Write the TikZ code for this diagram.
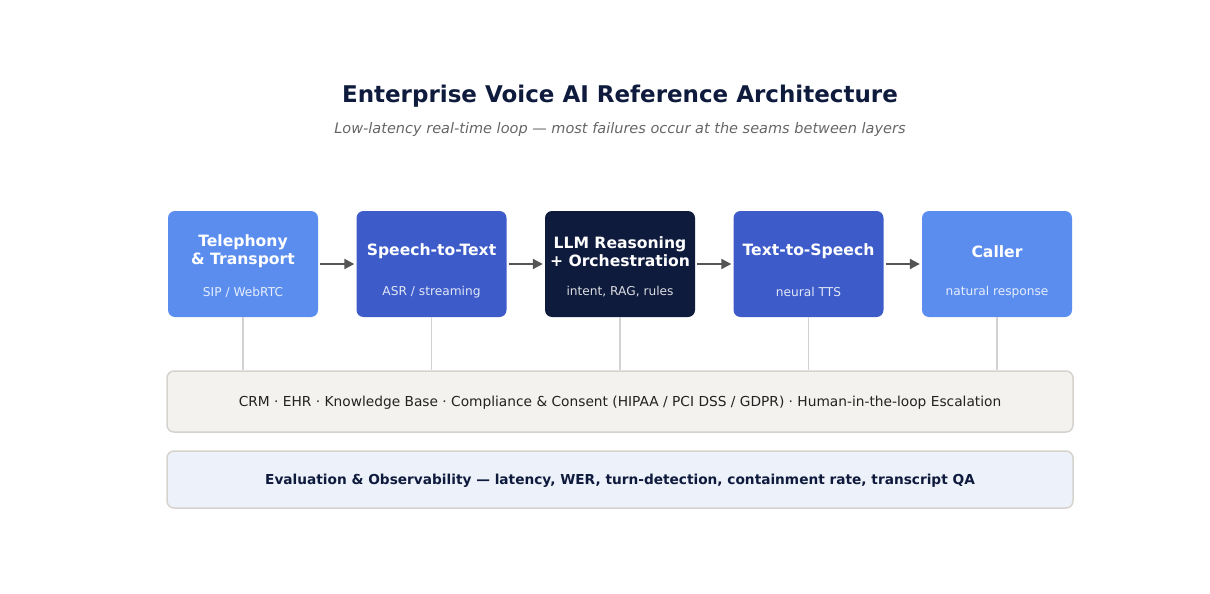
\documentclass[tikz,border=0pt]{standalone}
\usepackage{fontspec}
\setmainfont{DejaVu Sans}
\usetikzlibrary{arrows.meta}
\definecolor{vlight}{RGB}{91, 141, 239}
\definecolor{vmid}{RGB}{61, 92, 201}
\definecolor{vnavy}{RGB}{15, 27, 61}
\definecolor{vgray}{RGB}{85, 85, 85}
\definecolor{vsub}{RGB}{102, 102, 102}
\definecolor{vrule}{RGB}{210, 210, 210}
\definecolor{vsysfill}{RGB}{243, 242, 239}
\definecolor{vsysline}{RGB}{214, 211, 206}
\definecolor{vevalfill}{RGB}{237, 241, 250}
\tikzset{
  stage/.style={rounded corners=7pt, minimum width=150pt, minimum height=106pt, inner sep=0pt},
  stagetitle/.style={text=white, align=center, font=\bfseries\fontsize{15.6}{18}\selectfont},
  stagenote/.style={text=white, opacity=0.85, font=\fontsize{12.2}{14}\selectfont},
  flow/.style={vgray, line width=2pt, -{Triangle[length=10pt,width=10pt]}, shorten <=2pt, shorten >=2pt},
  band/.style={rounded corners=7pt, draw=vsysline, line width=1.5pt, minimum width=906pt, inner sep=0pt, text depth=0pt},
}
\begin{document}
\begin{tikzpicture}[x=1pt,y=-1pt]
\useasboundingbox (0,0) rectangle (1210,594);

% Heading
\node[vnavy, font=\bfseries\fontsize{23}{26}\selectfont] (title) at (620,96.5) {Enterprise Voice AI Reference Architecture};
\node[vsub, font=\itshape\fontsize{14.5}{17}\selectfont] (subtitle) at (620,129.5) {Low-latency real-time loop — most failures occur at the seams between layers};

% Pipeline stages
\foreach \name/\x/\col/\head/\note in {
    tel/243/vlight/{Telephony\\\& Transport}/{SIP / WebRTC},
    stt/431.5/vmid/{Speech-to-Text}/{ASR / streaming},
    llm/620/vnavy/{LLM Reasoning\\+ Orchestration}/{intent, RAG, rules},
    tts/808.5/vmid/{Text-to-Speech}/{neural TTS},
    caller/997/vlight/{Caller}/{natural response}} {
    \node[stage, fill=\col] (\name) at (\x,264) {};
    \node[stagetitle] (\name-head) at (\x,251.5) {\head};
    \node[stagenote] (\name-note) at (\x,292) {\note};
}

% Flow between stages
\draw[flow] (tel) -- (stt);
\draw[flow] (stt) -- (llm);
\draw[flow] (llm) -- (tts);
\draw[flow] (tts) -- (caller);

% Systems of record
\node[band, fill=vsysfill, minimum height=61pt, text={rgb,255:red,34;green,34;blue,34}, font=\fontsize{13.75}{16}\selectfont] (sys) at (620,401.5)
  {CRM · EHR · Knowledge Base · Compliance \& Consent (HIPAA / PCI DSS / GDPR) · Human-in-the-loop Escalation};

% Evaluation layer
\node[band, fill=vevalfill, minimum height=57pt, text=vnavy, font=\bfseries\fontsize{13.7}{16}\selectfont] (eval) at (620,479.5)
  {Evaluation \& Observability — latency, WER, turn-detection, containment rate, transcript QA};

% Ties down to the systems band
\foreach \name in {tel,stt,llm,tts,caller} {
    \draw[vrule, line width=1.5pt] (\name.south) -- (\name.south |- sys.north);
}
\end{tikzpicture}
\end{document}
